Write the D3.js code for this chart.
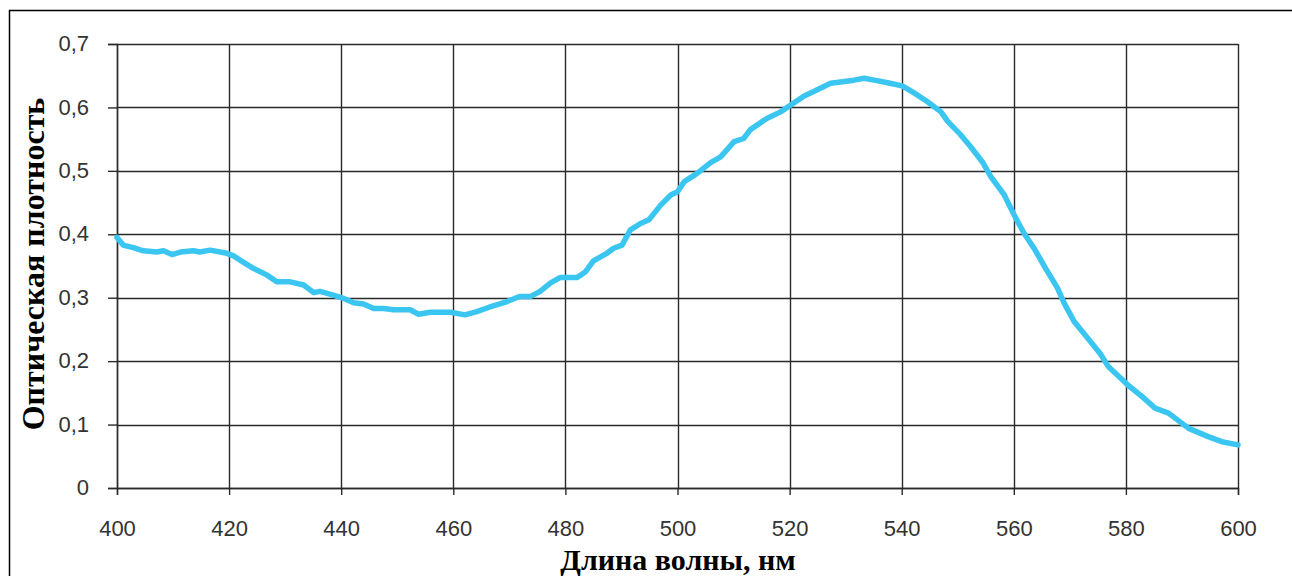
<!DOCTYPE html>
<html>
<head>
<meta charset="utf-8">
<script src="https://cdn.jsdelivr.net/npm/d3@7"></script>
<style>
  body { margin: 0; background: #fff; }
  svg { display: block; }
</style>
</head>
<body>
<div id="chart"></div>
<script>
// Spectrum: wavelength (nm) and optical density
const wavelength = [400, 401.1, 402.9, 404.7, 407.1, 408.3, 409.8, 411.3, 413.6, 414.8, 416.6, 419.6,
  420.8, 422, 424.4, 426.7, 428.5, 430.9, 433.3, 435.1, 436.2, 438.6, 440.4, 442.2, 444, 445.8,
  447.6, 449.3, 452.3, 453.8, 455.9, 459.5, 462.1, 464.2, 466.4, 469.6, 471.8, 473.8, 475.5,
  477.3, 479.1, 482.1, 483.6, 485, 487.4, 488.6, 490.1, 491.6, 493.4, 494.9, 497, 498.8, 500,
  501.2, 503.5, 505.9, 507.7, 510.1, 511.8, 513, 516, 518.4, 520.2, 522.6, 524.3, 527.3, 529.1,
  531.5, 533.3, 535.1, 537.5, 540.1, 542.2, 544.6, 547, 548.2, 550.5, 552.3, 554.4, 555.9, 558.3,
  560.2, 561.8, 563.6, 565.7, 567.8, 569, 570.8, 573.2, 575.4, 576.9, 580.4, 582.9, 585.2, 587.6,
  591.2, 594.7, 597.1, 600];
const density = [0.395, 0.383, 0.379, 0.374, 0.372, 0.374, 0.368, 0.372, 0.374, 0.372, 0.375, 0.370,
  0.366, 0.359, 0.346, 0.336, 0.325, 0.325, 0.320, 0.308, 0.310, 0.304, 0.299, 0.292, 0.290, 0.283,
  0.283, 0.281, 0.281, 0.274, 0.277, 0.277, 0.273, 0.278, 0.285, 0.294, 0.302, 0.302, 0.310,
  0.323, 0.332, 0.332, 0.341, 0.358, 0.370, 0.378, 0.383, 0.407, 0.417, 0.423, 0.446, 0.462, 0.467,
  0.483, 0.496, 0.513, 0.522, 0.546, 0.551, 0.565, 0.583, 0.593, 0.604, 0.618, 0.625, 0.638, 0.640,
  0.643, 0.646, 0.643, 0.639, 0.634, 0.623, 0.609, 0.593, 0.578, 0.557, 0.538, 0.514, 0.491, 0.462,
  0.428, 0.402, 0.378, 0.346, 0.315, 0.291, 0.262, 0.236, 0.212, 0.191, 0.162, 0.144, 0.126, 0.118,
  0.094, 0.081, 0.073, 0.068];

const xTicks = [400, 420, 440, 460, 480, 500, 520, 540, 560, 580, 600];
const yTicks = [0, 0.1, 0.2, 0.3, 0.4, 0.5, 0.6, 0.7];

const xTitle = "Длина волны, нм";
const yTitle = "Оптическая плотность";

const W = 1292, H = 576;
const margin = {top: 44, right: 54, bottom: 88, left: 117};

const svg = d3.select("#chart").append("svg")
    .attr("width", W)
    .attr("height", H);

// outer chart frame (right and bottom edges fall outside the picture)
svg.append("rect")
    .attr("x", 9.5).attr("y", 10.5)
    .attr("width", W + 20).attr("height", H + 20)
    .attr("fill", "none")
    .attr("stroke", "#000")
    .attr("stroke-width", 1.5);

const x = d3.scaleLinear().domain([400, 600]).range([margin.left, W - margin.right]);
const y = d3.scaleLinear().domain([0, 0.7]).range([H - margin.bottom, margin.top]);

const fmt = d => d === 0 ? "0" : d3.format(".1f")(d).replace(".", ",");

// grid
svg.append("g")
  .selectAll("line")
  .data(yTicks)
  .join("line")
    .attr("x1", x(400)).attr("x2", x(600))
    .attr("y1", d => Math.round(y(d)) + 0.5).attr("y2", d => Math.round(y(d)) + 0.5)
    .attr("stroke", "#2a2a2a").attr("stroke-width", 1.4);

svg.append("g")
  .selectAll("line")
  .data(xTicks)
  .join("line")
    .attr("y1", y(0.7)).attr("y2", y(0))
    .attr("x1", d => Math.round(x(d)) + 0.5).attr("x2", d => Math.round(x(d)) + 0.5)
    .attr("stroke", "#2a2a2a").attr("stroke-width", 1.4);

// axes
const yAxis = svg.append("g")
    .attr("transform", `translate(${x(400)},0)`)
    .call(d3.axisLeft(y).tickValues(yTicks).tickFormat(fmt).tickSize(9).tickPadding(19));

const xAxis = svg.append("g")
    .attr("transform", `translate(0,${y(0)})`)
    .call(d3.axisBottom(x).tickValues(xTicks).tickSize(7).tickPadding(25));

[yAxis, xAxis].forEach(g => {
  g.select(".domain").attr("stroke", "#2a2a2a").attr("stroke-width", 1.4);
  g.selectAll(".tick line").attr("stroke", "#2a2a2a").attr("stroke-width", 1.4);
  g.selectAll(".tick text")
    .attr("fill", "#333")
    .style("font-family", "'Liberation Sans', Arial, sans-serif")
    .style("font-size", "22px");
});
yAxis.selectAll(".tick text").attr("dy", "0.3em");

// spectrum line
const pts = wavelength.map((w, i) => [w, density[i]]);
svg.append("path")
    .datum(pts)
    .attr("fill", "none")
    .attr("stroke", "#3ac6f0")
    .attr("stroke-width", 5.5)
    .attr("stroke-linejoin", "round")
    .attr("stroke-linecap", "round")
    .attr("d", d3.line().x(d => x(d[0])).y(d => y(d[1])));

// titles
svg.append("text")
    .attr("x", 678)
    .attr("y", 570)
    .attr("text-anchor", "middle")
    .style("font-family", "'Liberation Serif', 'Times New Roman', serif")
    .style("font-weight", "bold")
    .style("font-size", "30px")
    .text(xTitle);

svg.append("text")
    .attr("transform", `translate(44,264) rotate(-90)`)
    .attr("text-anchor", "middle")
    .style("font-family", "'Liberation Serif', 'Times New Roman', serif")
    .style("font-weight", "bold")
    .style("font-size", "32px")
    .text(yTitle);
</script>
</body>
</html>
